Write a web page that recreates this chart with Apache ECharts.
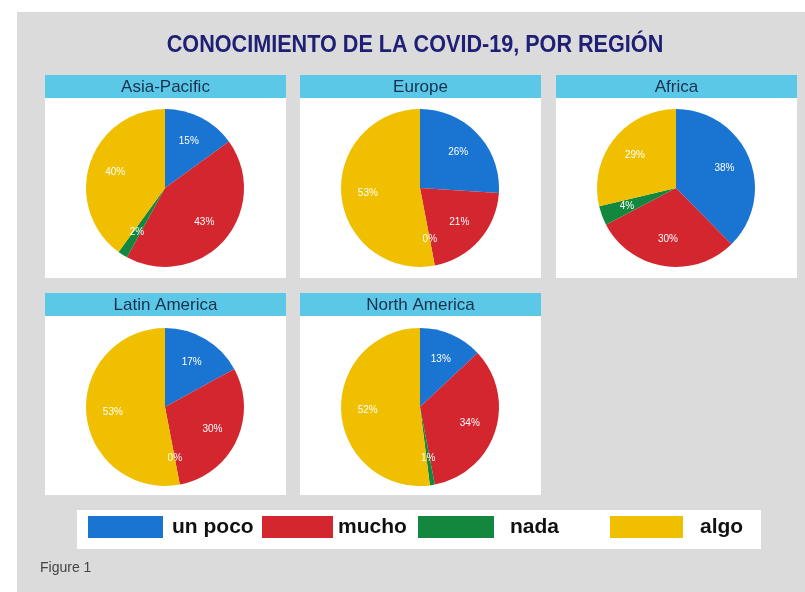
<!DOCTYPE html>
<html>
<head>
<meta charset="utf-8">
<script src="https://cdn.jsdelivr.net/npm/echarts@6/dist/echarts.min.js"></script>
<style>
html,body{margin:0;padding:0;background:#fff;}
#c{width:805px;height:592px;}
</style>
</head>
<body>
<div id="c"></div>
<script>
// ---- data ----
var chartTitle = 'CONOCIMIENTO DE LA COVID-19, POR REGIÓN';
var categories = ['un poco', 'mucho', 'nada', 'algo'];
var regions = ['Asia-Pacific', 'Europe', 'Africa', 'Latin America', 'North America'];
var asiaPacific = [15, 43, 2, 40];
var europe = [26, 21, 0, 53];
var africa = [38, 30, 4, 29];
var latinAmerica = [17, 30, 0, 53];
var northAmerica = [13, 34, 1, 52];
var regionValues = [asiaPacific, europe, africa, latinAmerica, northAmerica];
var footnote = 'Figure 1';

// ---- styles / layout ----
var colors = ['#1a74d2', '#d4262f', '#12873d', '#f0c000'];
var sans = '"Liberation Sans", Arial, Helvetica, sans-serif';
var panels = [
  {x: 45, hy: 75, wy: 98, wh: 180, cx: 165, cy: 188},
  {x: 300, hy: 75, wy: 98, wh: 180, cx: 420, cy: 188},
  {x: 556, hy: 75, wy: 98, wh: 180, cx: 676, cy: 188},
  {x: 45, hy: 293, wy: 316, wh: 179, cx: 165, cy: 407},
  {x: 300, hy: 293, wy: 316, wh: 179, cx: 420, cy: 407}
];
var panelW = 241, headerH = 23, pieR = 79;

var chart = echarts.init(document.getElementById('c'), null, {renderer: 'canvas'});

var graphics = [
  {type: 'rect', shape: {x: 17, y: 12, width: 788, height: 580}, style: {fill: '#dbdbdb'}, z: -10},
  {type: 'rect', shape: {x: 77, y: 510, width: 684, height: 39}, style: {fill: '#ffffff'}, z: -9},
  {type: 'text', x: 415, y: 45, scaleX: 0.9, z: 5,
    style: {text: chartTitle, fontFamily: sans, fontWeight: 'bold', fontSize: 24, fill: '#1f2075',
      align: 'center', verticalAlign: 'middle'}}
];
var titles = [
  {text: footnote, left: 40, top: 561, padding: 0, textStyle: {fontFamily: sans, fontWeight: 'normal', fontSize: 14, color: '#444'}}
];
var series = [];
panels.forEach(function (p, i) {
  graphics.push({type: 'rect', shape: {x: p.x, y: p.wy, width: panelW, height: p.wh}, style: {fill: '#ffffff'}, z: -9});
  graphics.push({type: 'rect', shape: {x: p.x, y: p.hy, width: panelW, height: headerH}, style: {fill: '#5cc8e8'}, z: -8});
  graphics.push({type: 'text', x: p.x + panelW / 2, y: p.hy + headerH / 2 + 1, z: 5,
    style: {text: regions[i], fontFamily: sans, fontSize: 17, fill: '#17304f', align: 'center', verticalAlign: 'middle'}});
  var data = categories.map(function (c, k) { return {name: c, value: regionValues[i][k]}; });
  series.push({
    type: 'pie', name: regions[i], center: [p.cx, p.cy], radius: [0, pieR],
    startAngle: 90, clockwise: true, avoidLabelOverlap: false, silent: true,
    label: {show: false}, labelLine: {show: false},
    itemStyle: {borderWidth: 0},
    data: data
  });
  // transparent overlay used to place the percentage labels further out
  series.push({
    type: 'pie', name: regions[i] + ' labels', center: [p.cx, p.cy], radius: [0, pieR * 1.25],
    startAngle: 90, clockwise: true, avoidLabelOverlap: false, silent: true,
    itemStyle: {color: 'rgba(0,0,0,0)'},
    label: {show: true, position: 'inside', formatter: '{c}%', color: '#ffffff', fontSize: 10, fontFamily: sans},
    labelLine: {show: false},
    data: data.map(function (d) { return {name: d.name, value: d.value, itemStyle: {color: 'rgba(0,0,0,0)'}}; })
  });
});

var legendPos = [
  {left: 88, w: 75, pad: 4},
  {left: 262, w: 71, pad: 0},
  {left: 418, w: 76, pad: 11},
  {left: 610, w: 73, pad: 12}
];
var legends = categories.map(function (c, k) {
  return {
    data: [{name: c, itemStyle: {color: colors[k]}}], left: legendPos[k].left, top: 516, padding: 0,
    itemWidth: legendPos[k].w, itemHeight: 22, icon: 'rect', selectedMode: false,
    textStyle: {fontFamily: sans, fontWeight: 'bold', fontSize: 21, color: '#111', padding: [0, 0, 0, legendPos[k].pad]}
  };
});

chart.setOption({
  animation: false,
  color: colors,
  title: titles,
  graphic: graphics,
  legend: legends,
  series: series
});
</script>
</body>
</html>
